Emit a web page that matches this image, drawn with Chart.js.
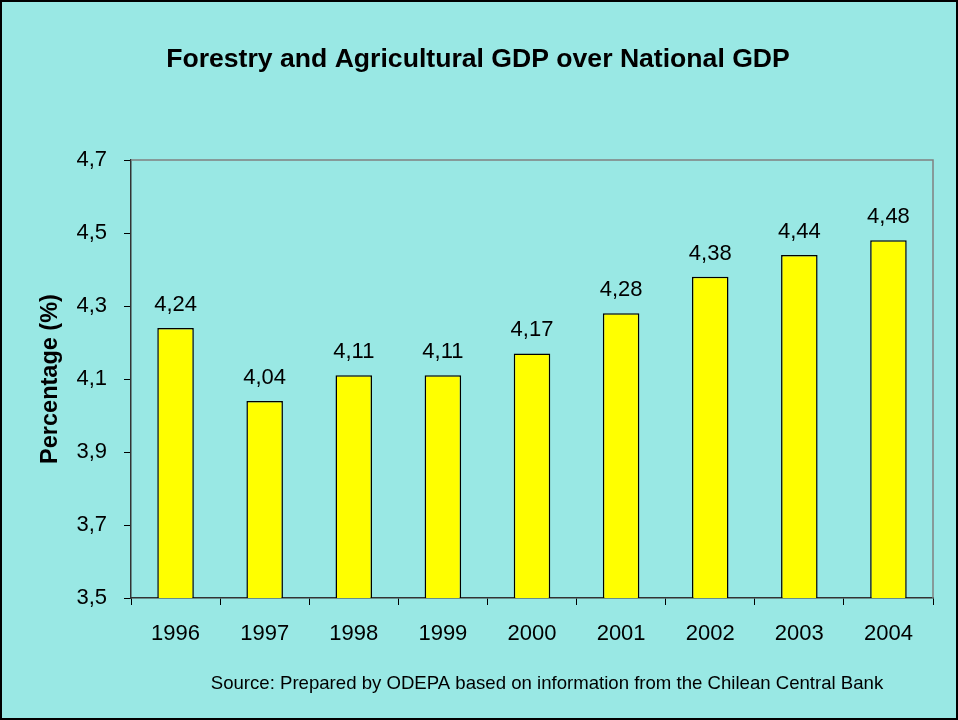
<!DOCTYPE html>
<html>
<head>
<meta charset="utf-8">
<script src="https://cdn.jsdelivr.net/npm/chart.js@4/dist/chart.umd.min.js"></script>
<style>
  html, body { margin: 0; padding: 0; background: #99E8E4; }
  #wrap { width: 958px; height: 720px; position: relative; }
</style>
</head>
<body>
<div id="wrap"><canvas id="gdpChart"></canvas></div>
<script>
// chart data
const years = ['1996', '1997', '1998', '1999', '2000', '2001', '2002', '2003', '2004'];
const gdpShare = [4.24, 4.04, 4.11, 4.11, 4.17, 4.28, 4.38, 4.44, 4.48];
const yTicks = [3.5, 3.7, 3.9, 4.1, 4.3, 4.5, 4.7];

const chartTitle = 'Forestry and Agricultural GDP over National GDP';
const sourceNote = 'Source: Prepared by ODEPA based on information from the Chilean Central Bank';

const FONT = '"Liberation Sans", Arial, sans-serif';
const fmt = v => v.toFixed(2).replace('.', ',');

// background, border, title, source, top/right frame, value labels
const decorPlugin = {
  id: 'decor',
  beforeDraw(chart) {
    const ctx = chart.ctx;
    ctx.save();
    ctx.fillStyle = '#99E8E4';
    ctx.fillRect(0, 0, chart.width, chart.height);
    ctx.restore();
  },
  afterDraw(chart) {
    const ctx = chart.ctx;
    const area = chart.chartArea;
    ctx.save();
    // grey frame on top and right
    ctx.strokeStyle = '#808080';
    ctx.lineWidth = 1.5;
    ctx.beginPath();
    ctx.moveTo(area.left, area.top);
    ctx.lineTo(area.right, area.top);
    ctx.lineTo(area.right, area.bottom);
    ctx.stroke();

    // value labels
    const meta = chart.getDatasetMeta(0);
    ctx.fillStyle = '#000';
    ctx.font = '22px ' + FONT;
    ctx.textAlign = 'center';
    ctx.textBaseline = 'alphabetic';
    meta.data.forEach((bar, i) => {
      ctx.fillText(fmt(gdpShare[i]), bar.x, bar.y - 17);
    });

    // title
    ctx.font = 'bold 26.6px ' + FONT;
    ctx.textBaseline = 'middle';
    ctx.fillText(chartTitle, 478, 60);

    // source
    ctx.font = '18.6px ' + FONT;
    ctx.fillText(sourceNote, 547, 684);

    // outer black border
    ctx.strokeStyle = '#000';
    ctx.lineWidth = 2;
    ctx.strokeRect(1, 1, chart.width - 2, chart.height - 2);
    ctx.restore();
  }
};

const ctx = document.getElementById('gdpChart').getContext('2d');
new Chart(ctx, {
  type: 'bar',
  data: {
    labels: years,
    datasets: [{
      data: gdpShare,
      backgroundColor: '#FFFF00',
      borderColor: '#000',
      borderWidth: 1.5,
      borderSkipped: false,
      categoryPercentage: 1,
      barPercentage: 0.41
    }]
  },
  options: {
    responsive: true,
    maintainAspectRatio: false,
    animation: false,
    layout: { padding: { top: 160, right: 25, left: 36, bottom: 0 } },
    plugins: {
      legend: { display: false },
      tooltip: { enabled: false }
    },
    scales: {
      y: {
        min: 3.5,
        max: 4.7,
        afterBuildTicks(scale) { scale.ticks = yTicks.map(v => ({ value: v })); },
        afterFit(scale) { scale.width = 95; },
        ticks: {
          color: '#000',
          padding: 17,
          font: { family: FONT, size: 22 },
          callback: v => v.toFixed(1).replace('.', ',')
        },
        grid: {
          drawOnChartArea: false,
          tickLength: 7,
          color: '#000'
        },
        border: { color: '#333', width: 1.5 },
        title: {
          display: true,
          text: 'Percentage (%)',
          color: '#000',
          padding: { top: 0, bottom: 0 },
          font: { family: FONT, size: 23.5, weight: 'bold' }
        }
      },
      x: {
        afterFit(scale) { scale.height = 122; },
        ticks: {
          color: '#000',
          padding: 16,
          font: { family: FONT, size: 22 }
        },
        grid: {
          offset: true,
          drawOnChartArea: false,
          tickLength: 7,
          color: '#000'
        },
        border: { color: '#333', width: 1.5 }
      }
    }
  },
  plugins: [decorPlugin]
});
</script>
</body>
</html>
